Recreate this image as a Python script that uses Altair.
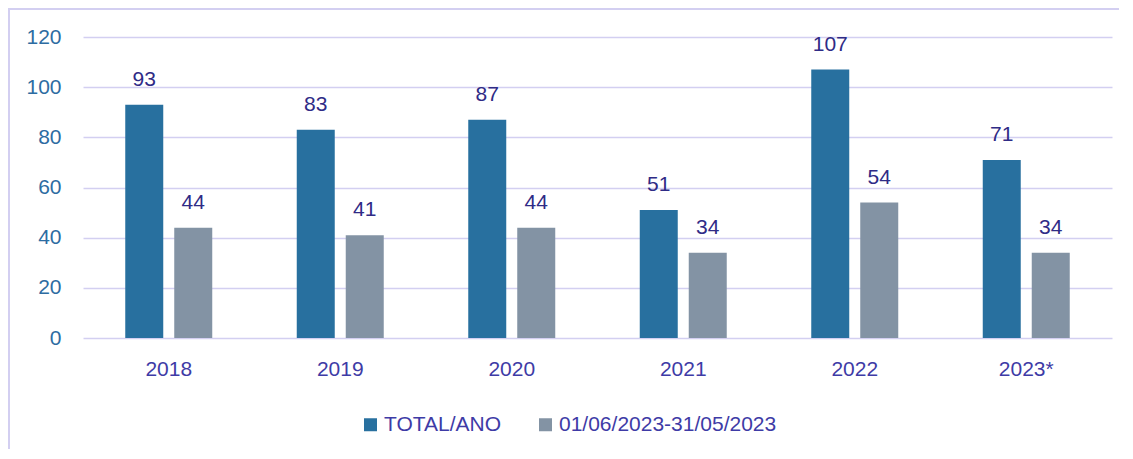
import altair as alt
import pandas as pd

years = ["2018", "2019", "2020", "2021", "2022", "2023*"]
total_ano = [93, 83, 87, 51, 107, 71]
periodo = [44, 41, 44, 34, 54, 34]
series = ["TOTAL/ANO", "01/06/2023-31/05/2023"]
colors = ["#28709F", "#8393A4"]
y_ticks = [0, 20, 40, 60, 80, 100, 120]

rows = []
for a, t, p in zip(years, total_ano, periodo):
    rows.append({"ano": a, "serie": series[0], "valor": t})
    rows.append({"ano": a, "serie": series[1], "valor": p})
df = pd.DataFrame(rows)

W, H = 1029, 301
GRID = "#D3CFF1"
FONT = "Liberation Sans"

x_enc = alt.X(
    "ano:N", sort=years,
    scale=alt.Scale(paddingInner=0.4286, paddingOuter=0.2143),
    axis=alt.Axis(title=None, labelAngle=0, ticks=False, domain=False,
                  labelFontSize=21, labelColor="#3E3BA6", labelFont=FONT,
                  labelPadding=20, grid=False),
)
xoff = alt.XOffset("serie:N", sort=series,
                   scale=alt.Scale(paddingInner=0, paddingOuter=0))
y_enc = alt.Y(
    "valor:Q",
    scale=alt.Scale(domain=[0, 120], nice=False),
    axis=alt.Axis(title=None, values=y_ticks, ticks=False, domain=False,
                  labelFontSize=21, labelColor="#2D6CA2", labelFont=FONT,
                  labelPadding=22, gridColor=GRID, gridWidth=1.5, gridOpacity=1),
)

base = alt.Chart(df)

bars = base.mark_bar(size=38).encode(
    x=x_enc, xOffset=xoff, y=y_enc,
    color=alt.Color(
        "serie:N", sort=series,
        scale=alt.Scale(domain=series, range=colors),
        legend=alt.Legend(orient="none", legendX=277, legendY=377,
                          direction="horizontal", title=None,
                          symbolType="square", symbolSize=169,
                          symbolStrokeWidth=0, symbolOpacity=1,
                          labelFontSize=21, labelColor="#3E3BA6", labelFont=FONT,
                          labelOffset=3, columnPadding=33, padding=0,
                          labelLimit=0),
    ),
)

labels = base.mark_text(dy=-19, baseline="alphabetic", fontSize=21,
                        color="#2F2B86", font=FONT).encode(
    x=x_enc, xOffset=xoff, y=y_enc, text="valor:Q"
)

frame = pd.DataFrame({"k": [0]})
top_border = alt.Chart(frame).mark_rule(color=GRID, strokeWidth=2).encode(
    x=alt.value(-75), x2=alt.value(1036), y=alt.value(-28)
)
left_border = alt.Chart(frame).mark_rule(color=GRID, strokeWidth=2).encode(
    x=alt.value(-74), y=alt.value(-29), y2=alt.value(412)
)

chart = alt.layer(top_border, left_border, bars, labels).properties(
    width=W, height=H,
    autosize=alt.AutoSizeParams(type="none"),
    padding={"left": 75, "top": 29, "right": 13, "bottom": 113},
).configure_view(stroke=None)

chart.save("out.html", embed_options={"renderer": "svg", "actions": False})
